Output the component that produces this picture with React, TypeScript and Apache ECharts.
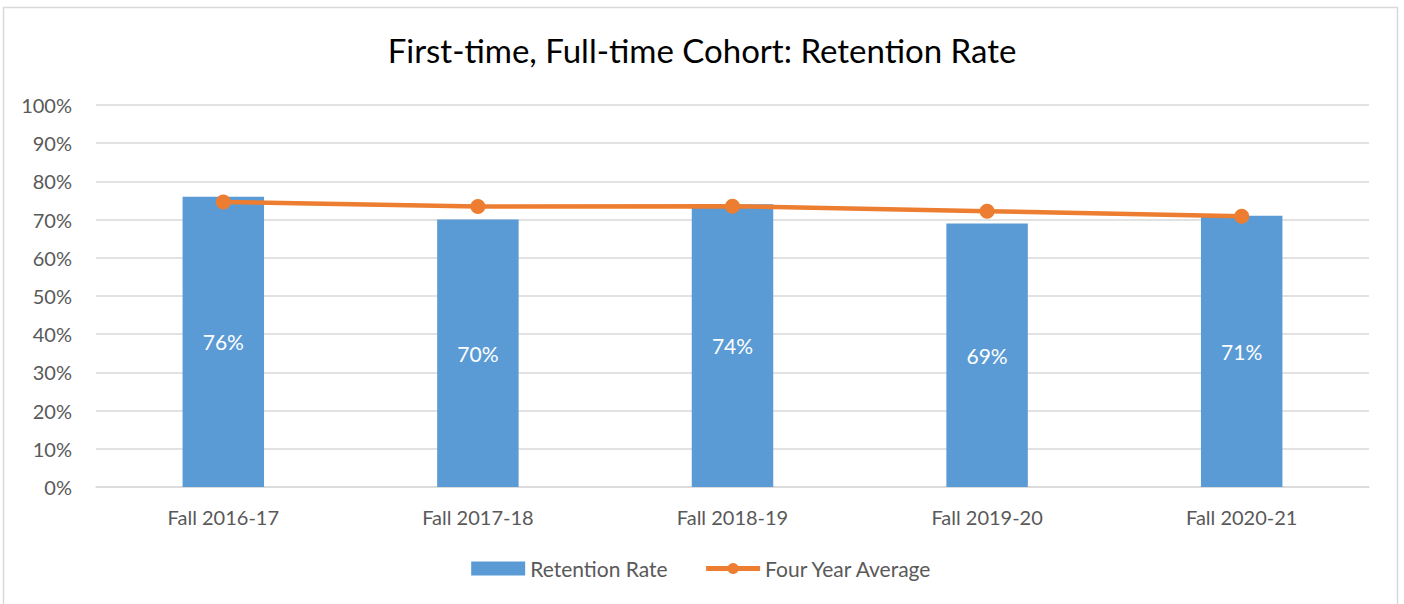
import React, { useEffect, useRef } from "react";
import * as echarts from "echarts";

const categories = ["Fall 2016-17", "Fall 2017-18", "Fall 2018-19", "Fall 2019-20", "Fall 2020-21"];
const retentionRate = [0.76, 0.70, 0.74, 0.69, 0.71];
const fourYearAverage = [0.746, 0.734, 0.735, 0.722, 0.709];
const titleText = "First-time, Full-time Cohort: Retention Rate";

const FONT = "Lato, 'Open Sans', sans-serif";
const GRAY = "#595959";

export default function App() {
  const ref = useRef<HTMLDivElement>(null);
  useEffect(() => {
    const chart = echarts.init(ref.current!, null, { renderer: "svg" });
    chart.setOption({
      animation: false,
      backgroundColor: "#ffffff",
      textStyle: { fontFamily: FONT },
      graphic: [
        {
          type: "rect",
          shape: { x: 3.5, y: 7.5, width: 1394, height: 600 },
          style: { fill: "none", stroke: "#d9d9d9", lineWidth: 1.5 },
          silent: true,
        },
      ],
      title: {
        text: titleText,
        left: "center",
        top: 28,
        textStyle: { fontFamily: FONT, fontSize: 33, fontWeight: "normal", color: "#000000" },
      },
      legend: {
        bottom: 20,
        left: "center",
        itemGap: 36,
        itemWidth: 54,
        itemHeight: 14,
        textStyle: { fontFamily: FONT, fontSize: 21, color: GRAY },
        data: [
          { name: "Retention Rate", icon: "rect" },
          { name: "Four Year Average", lineStyle: { width: 5 } },
        ],
      },
      grid: { left: 96, right: 35, top: 105, bottom: 117, containLabel: false },
      xAxis: {
        type: "category",
        data: categories,
        axisLine: { lineStyle: { color: "#d9d9d9", width: 1.5 } },
        axisTick: { show: false },
        axisLabel: { fontFamily: FONT, fontSize: 20, color: GRAY, margin: 20 },
      },
      yAxis: {
        type: "value",
        min: 0,
        max: 1,
        interval: 0.1,
        axisLine: { show: false },
        axisTick: { show: false },
        splitLine: { lineStyle: { color: "#d9d9d9", width: 1.5 } },
        axisLabel: {
          fontFamily: FONT,
          fontSize: 20,
          color: GRAY,
          margin: 24,
          formatter: (v: number) => Math.round(v * 100) + "%",
        },
      },
      series: [
        {
          name: "Retention Rate",
          type: "bar",
          data: retentionRate,
          barWidth: "32%",
          itemStyle: { color: "#5b9bd5" },
          label: {
            show: true,
            position: "inside",
            color: "#ffffff",
            fontFamily: FONT,
            fontSize: 21,
            formatter: (p: any) => Math.round(p.value * 100) + "%",
          },
        },
        {
          name: "Four Year Average",
          type: "line",
          data: fourYearAverage,
          symbol: "circle",
          symbolSize: 15,
          lineStyle: { color: "#ed7d31", width: 4.5 },
          itemStyle: { color: "#ed7d31" },
        },
      ],
    });
    return () => chart.dispose();
  }, []);
  return (
    <div
      ref={ref}
      style={{ position: "fixed", left: 0, top: 0, width: 1404, height: 604 }}
    />
  );
}
